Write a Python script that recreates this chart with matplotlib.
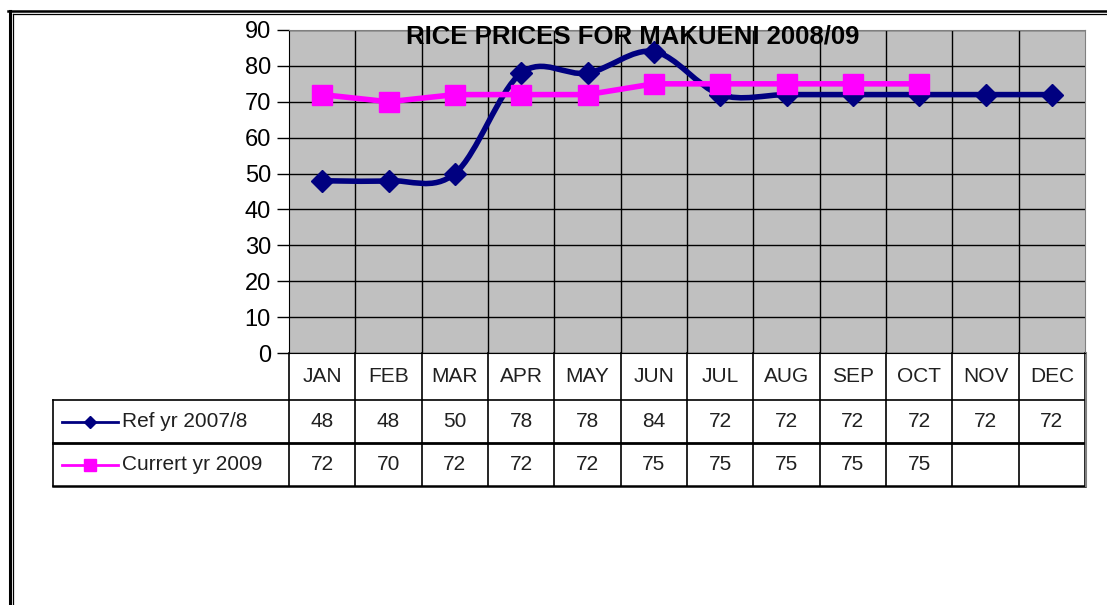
import matplotlib
matplotlib.use("Agg")
import matplotlib.pyplot as plt
from matplotlib.path import Path
from matplotlib.patches import PathPatch
from matplotlib.lines import Line2D
from matplotlib.transforms import blended_transform_factory

# data
months = ["JAN", "FEB", "MAR", "APR", "MAY", "JUN", "JUL", "AUG", "SEP", "OCT", "NOV", "DEC"]
ref_label = "Ref yr 2007/8"
ref_prices = [48, 48, 50, 78, 78, 84, 72, 72, 72, 72, 72, 72]
cur_label = "Currert yr 2009"
cur_prices = [72, 70, 72, 72, 72, 75, 75, 75, 75, 75, None, None]
y_ticks = list(range(0, 100, 10))
title = "RICE PRICES FOR MAKUENI 2008/09"

navy = "#000080"
magenta = "#FF00FF"
W, H = 1107, 605
table_fs = 15

plt.rcParams["font.family"] = ["Liberation Sans", "DejaVu Sans"]

fig = plt.figure(figsize=(W / 100, H / 100), dpi=100)


def fx(px):
    return px / W


def fy(py):
    return 1 - py / H


# plot area in pixel coordinates
left, right, top, bottom = 289, 1085, 30, 353
ax = fig.add_axes([fx(left), fy(bottom), fx(right) - fx(left), fy(top) - fy(bottom)])
ax.set_facecolor("#C0C0C0")
ax.set_xlim(-0.5, len(months) - 0.5)
ax.set_ylim(0, 90)
ax.set_yticks(y_ticks)
ax.set_yticklabels([str(v) for v in y_ticks], fontsize=17)
ax.tick_params(axis="y", direction="out", length=9, width=1, pad=4)
ax.set_xticks([])
ax.set_xticks([i + 0.5 for i in range(len(months) - 1)], minor=True)
ax.tick_params(axis="x", which="minor", length=0)
ax.grid(True, axis="y", color="black", lw=1)
ax.grid(True, axis="x", which="minor", color="black", lw=1)
ax.set_axisbelow(True)
for side in ["top", "right"]:
    ax.spines[side].set_color("#808080")
ax.spines["left"].set_color("black")
ax.spines["bottom"].set_color("black")

# smoothed reference line (Catmull-Rom bezier like Excel)
xs = list(range(len(ref_prices)))
pts = list(zip(xs, ref_prices))
verts = [pts[0]]
codes = [Path.MOVETO]
for i in range(len(pts) - 1):
    p0 = pts[max(i - 1, 0)]
    p1 = pts[i]
    p2 = pts[i + 1]
    p3 = pts[min(i + 2, len(pts) - 1)]
    c1 = (p1[0] + (p2[0] - p0[0]) / 6, p1[1] + (p2[1] - p0[1]) / 6)
    c2 = (p2[0] - (p3[0] - p1[0]) / 6, p2[1] - (p3[1] - p1[1]) / 6)
    verts += [c1, c2, p2]
    codes += [Path.CURVE4] * 3
ax.add_patch(PathPatch(Path(verts, codes), fill=False, edgecolor=navy, lw=4, zorder=3))
ax.plot(xs, ref_prices, ls="none", marker="D", ms=11.5, color=navy, zorder=4)

cur_x = [i for i, v in enumerate(cur_prices) if v is not None]
cur_y = [v for v in cur_prices if v is not None]
ax.plot(cur_x, cur_y, color=magenta, lw=4, marker="s", ms=14, zorder=5)

fig.text(fx(633), fy(37), title, ha="center", va="center",
         fontsize=18.5, fontweight="bold", zorder=6)

# data table below the plot area
tr = blended_transform_factory(ax.transData, ax.transAxes)
ah = bottom - top


def ty(py):
    return -(py - bottom) / ah


leg_left = -0.5 - (left - 53) / ((right - left) / len(months))
y_hdr, y_ref, y_cur, y_end = ty(353), ty(400), ty(443), ty(486)


def hline(x0, x1, y, lw=1.2, color="black"):
    ax.add_line(Line2D([x0, x1], [y, y], transform=tr, color=color, lw=lw, clip_on=False))


def vline(x, y0, y1, lw=1.2, color="black"):
    ax.add_line(Line2D([x, x], [y0, y1], transform=tr, color=color, lw=lw, clip_on=False))


hline(leg_left, 11.5, y_ref)
hline(leg_left, 11.5, y_cur, lw=2)
hline(leg_left, 11.5, y_end, lw=1.8)
vline(leg_left, y_ref, y_end)
for i in range(len(months) + 1):
    vline(i - 0.5, y_hdr, y_end)
vline(11.5 + 0.02, y_hdr, y_end, lw=1.5, color="#808080")

for i, m in enumerate(months):
    ax.text(i, (y_hdr + y_ref) / 2, m, transform=tr, ha="center", va="center",
            fontsize=table_fs, color="#202020")
    ax.text(i, (y_ref + y_cur) / 2, str(ref_prices[i]), transform=tr, ha="center",
            va="center", fontsize=table_fs, color="#202020")
    if cur_prices[i] is not None:
        ax.text(i, (y_cur + y_end) / 2, str(cur_prices[i]), transform=tr, ha="center",
                va="center", fontsize=table_fs, color="#202020")

# legend keys inside the table
k0, k1 = leg_left + (62 - 53) / 66.33, leg_left + (118 - 53) / 66.33
tx = leg_left + (122 - 53) / 66.33
ym = (y_ref + y_cur) / 2
ax.add_line(Line2D([k0, k1], [ym, ym], transform=tr, color=navy, lw=2, clip_on=False))
ax.add_line(Line2D([(k0 + k1) / 2], [ym], transform=tr, color=navy, marker="D", ms=6,
                   ls="none", clip_on=False))
ax.text(tx, ym, ref_label, transform=tr, ha="left", va="center", fontsize=table_fs,
        color="#202020")
ym = (y_cur + y_end) / 2
ax.add_line(Line2D([k0, k1], [ym, ym], transform=tr, color=magenta, lw=2, clip_on=False))
ax.add_line(Line2D([(k0 + k1) / 2], [ym], transform=tr, color=magenta, marker="s", ms=8,
                   ls="none", clip_on=False))
ax.text(tx, ym, cur_label, transform=tr, ha="left", va="center", fontsize=table_fs,
        color="#202020")

# outer frame (double line top, left)
fig.add_artist(Line2D([fx(8), 1], [fy(11), fy(11)], color="black", lw=1.8))
fig.add_artist(Line2D([fx(12.5), 1], [fy(14), fy(14)], color="black", lw=0.9))
fig.add_artist(Line2D([fx(9.5), fx(9.5)], [fy(11), 0], color="black", lw=2.2))
fig.add_artist(Line2D([fx(12.5), fx(12.5)], [fy(14), 0], color="black", lw=0.9))

fig.savefig("out.png", dpi=100)
